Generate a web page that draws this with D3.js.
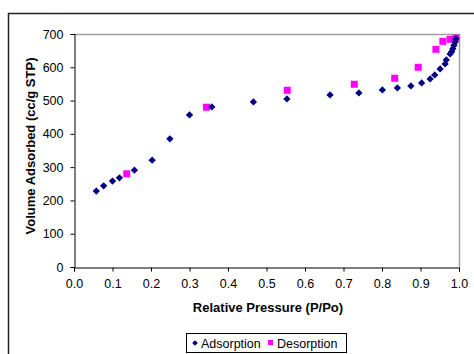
<!DOCTYPE html>
<html>
<head>
<meta charset="utf-8">
<script src="https://cdn.jsdelivr.net/npm/d3@7"></script>
<style>
  body { margin: 0; background: #fff; }
  svg { display: block; font-family: "Liberation Sans", Arial, sans-serif; }
</style>
</head>
<body>
<div id="chart"></div>
<script>
// adsorption branch
const adsX = [0.058, 0.077, 0.100, 0.118, 0.157, 0.203, 0.249, 0.300, 0.358, 0.466, 0.553, 0.665, 0.740, 0.801, 0.840, 0.875, 0.903, 0.925, 0.937, 0.951, 0.964, 0.967, 0.977, 0.981, 0.984, 0.987, 0.990, 0.992];
const adsY = [228, 244, 258, 268, 291, 321, 385, 457, 481, 496, 505, 517, 523, 532, 538, 544, 553, 565, 577, 595, 610, 622, 640, 647, 656, 666, 676, 686];
// desorption branch
const desX = [0.137, 0.344, 0.554, 0.728, 0.833, 0.894, 0.940, 0.958, 0.977, 0.992];
const desY = [280, 480, 531, 549, 567, 600, 654, 678, 684, 688];

const xTicks = [0, 0.1, 0.2, 0.3, 0.4, 0.5, 0.6, 0.7, 0.8, 0.9, 1.0];
const yTicks = [0, 100, 200, 300, 400, 500, 600, 700];

const W = 474, H = 354;
const plot = { left: 74, top: 34, right: 459, bottom: 267 };

const svg = d3.select('#chart').append('svg').attr('width', W).attr('height', H);

// outer chart border
svg.append('rect').attr('x', 8.5).attr('y', 13.5).attr('width', 480).attr('height', 360)
  .attr('fill', 'none').attr('stroke', '#222').attr('stroke-width', 1.5);

const x = d3.scaleLinear().domain([0, 1]).range([plot.left, plot.right]);
const y = d3.scaleLinear().domain([0, 700]).range([plot.bottom, plot.top]);

// plot frame (top/right gray)
svg.append('path')
  .attr('d', `M${plot.left},${plot.top + 0.5}H${plot.right + 0.5}V${plot.bottom}`)
  .attr('fill', 'none').attr('stroke', '#a0a0a0').attr('stroke-width', 1.5);

const xAxis = svg.append('g').attr('transform', `translate(0,${plot.bottom + 0.5})`)
  .call(d3.axisBottom(x).tickValues(xTicks).tickFormat(d3.format('.1f')).tickSizeOuter(0).tickSize(4).tickPadding(8));
const yAxis = svg.append('g').attr('transform', `translate(${plot.left + 0.5},0)`)
  .call(d3.axisLeft(y).tickValues(yTicks).tickSizeOuter(0).tickSize(4).tickPadding(7));

[xAxis, yAxis].forEach(g => {
  g.selectAll('path, line').attr('stroke', '#000');
  g.selectAll('text').style('font-size', '12.5px').attr('fill', '#000');
});

// axis titles
svg.append('text').attr('x', 268).attr('y', 312)
  .attr('text-anchor', 'middle').style('font-size', '13px').style('font-weight', 'bold')
  .text('Relative Pressure (P/Po)');
svg.append('text').attr('transform', 'translate(35,146) rotate(-90)')
  .attr('text-anchor', 'middle').style('font-size', '13px').style('font-weight', 'bold')
  .text('Volume Adsorbed (cc/g STP)');

const diamond = d3.symbol().type(d3.symbolDiamond2).size(34);

const ads = adsX.map((v, i) => ({ x: v, y: adsY[i] }));
const des = desX.map((v, i) => ({ x: v, y: desY[i] }));

svg.append('g').selectAll('rect').data(des).join('rect')
  .attr('x', d => x(d.x) - 3.5).attr('y', d => y(d.y) - 3.5)
  .attr('width', 7).attr('height', 7).attr('fill', '#ff00ff');

svg.append('g').selectAll('path').data(ads).join('path')
  .attr('d', diamond).attr('transform', d => `translate(${x(d.x)},${y(d.y)})`)
  .attr('fill', '#000080');

// legend
const lg = svg.append('g');
lg.append('rect').attr('x', 186.5).attr('y', 333.5).attr('width', 160).attr('height', 19)
  .attr('fill', '#fff').attr('stroke', '#000').attr('stroke-width', 1);
lg.append('path').attr('d', d3.symbol().type(d3.symbolDiamond2).size(20))
  .attr('transform', 'translate(195,343)').attr('fill', '#000080');
lg.append('text').attr('x', 201).attr('y', 347.5).style('font-size', '12.5px').text('Adsorption');
lg.append('rect').attr('x', 268).attr('y', 340).attr('width', 5).attr('height', 5).attr('fill', '#ff00ff');
lg.append('text').attr('x', 277).attr('y', 347.5).style('font-size', '12.5px').text('Desorption');
</script>
</body>
</html>
